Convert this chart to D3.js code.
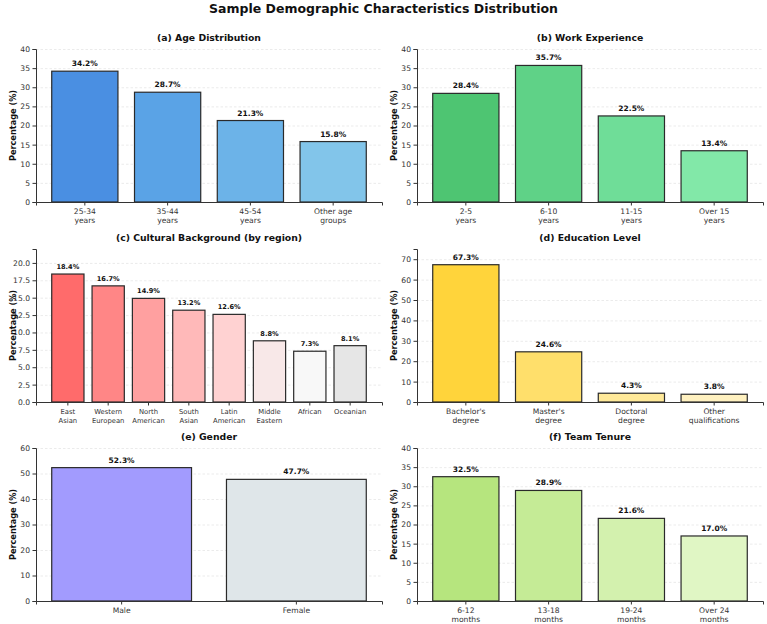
<!DOCTYPE html>
<html>
<head>
<meta charset="utf-8">
<script src="https://cdn.jsdelivr.net/npm/d3@7"></script>
<style>
  html, body { margin: 0; padding: 0; background: #fff; overflow: hidden; }
  svg { display: block; }
  text { font-family: 'DejaVu Sans', sans-serif; }
</style>
</head>
<body>
<svg></svg>
<script>
const w = 767
const h = 624

// (a) age
const ageLabels = ['25-34\nyears', '35-44\nyears', '45-54\nyears', 'Other age\ngroups']
const ageValues = [34.2, 28.7, 21.3, 15.8]
const ageTicks = [0, 5, 10, 15, 20, 25, 30, 35, 40]
const ageColors = ['#4a8fe2', '#5aa3e6', '#6cb3e8', '#82c5ea']

// (b) work experience
const expLabels = ['2-5\nyears', '6-10\nyears', '11-15\nyears', 'Over 15\nyears']
const expValues = [28.4, 35.7, 22.5, 13.4]
const expTicks = [0, 5, 10, 15, 20, 25, 30, 35, 40]
const expColors = ['#4ec572', '#5fd287', '#6fdd98', '#82e8a8']

// (c) cultural background
const cultureLabels = ['East\nAsian', 'Western\nEuropean', 'North\nAmerican', 'South\nAsian',
  'Latin\nAmerican', 'Middle\nEastern', 'African', 'Oceanian']
const cultureValues = [18.4, 16.7, 14.9, 13.2, 12.6, 8.8, 7.3, 8.1]
const cultureTicks = [0, 2.5, 5, 7.5, 10, 12.5, 15, 17.5, 20]
const cultureColors = ['#ff6b6b', '#ff8686', '#ffa0a0', '#ffb9b9', '#ffd2d2', '#f8e8e8', '#f8f8f8', '#e6e6e6']

// (d) education
const eduLabels = ["Bachelor's\ndegree", "Master's\ndegree", 'Doctoral\ndegree', 'Other\nqualifications']
const eduValues = [67.3, 24.6, 4.3, 3.8]
const eduTicks = [0, 10, 20, 30, 40, 50, 60, 70]
const eduColors = ['#ffd43b', '#ffdf6b', '#ffe999', '#fff1c0']

// (e) gender
const genderLabels = ['Male', 'Female']
const genderValues = [52.3, 47.7]
const genderTicks = [0, 10, 20, 30, 40, 50, 60]
const genderColors = ['#a29bfe', '#dfe6e9']

// (f) team tenure
const tenureLabels = ['6-12\nmonths', '13-18\nmonths', '19-24\nmonths', 'Over 24\nmonths']
const tenureValues = [32.5, 28.9, 21.6, 17.0]
const tenureTicks = [0, 5, 10, 15, 20, 25, 30, 35, 40]
const tenureColors = ['#b6e57e', '#c5eb96', '#d3f1ae', '#e0f6c4']

const panels = [
  { title: '(a) Age Distribution', labels: ageLabels, values: ageValues, ticks: ageTicks, colors: ageColors, yMax: 40 },
  { title: '(b) Work Experience', labels: expLabels, values: expValues, ticks: expTicks, colors: expColors, yMax: 40 },
  { title: '(c) Cultural Background (by region)', labels: cultureLabels, values: cultureValues, ticks: cultureTicks, colors: cultureColors, yMax: 22, fmt: d3.format('.1f'), small: true },
  { title: '(d) Education Level', labels: eduLabels, values: eduValues, ticks: eduTicks, colors: eduColors, yMax: 75 },
  { title: '(e) Gender', labels: genderLabels, values: genderValues, ticks: genderTicks, colors: genderColors, yMax: 60 },
  { title: '(f) Team Tenure', labels: tenureLabels, values: tenureValues, ticks: tenureTicks, colors: tenureColors, yMax: 40 }
]

const colX = [36, 417]
const rowTop = [49, 249, 448]
const innerWidth = 346
const innerHeight = 153

const svg = d3.select('svg')
  .attr('width', w)
  .attr('height', h)

svg.append('text')
  .attr('x', w / 2)
  .attr('y', 13)
  .attr('text-anchor', 'middle')
  .attr('font-size', 12.5)
  .attr('font-weight', 'bold')
  .attr('fill', '#111')
  .text('Sample Demographic Characteristics Distribution')

panels.forEach((p, i) => {
  const g = svg.append('g')
    .attr('transform', `translate(${colX[i % 2]}, ${rowTop[Math.floor(i / 2)]})`)

  const n = p.labels.length
  // bar width .8 with 5% margins, like matplotlib
  const xScale = d3.scaleBand()
    .domain(p.labels)
    .range([0, innerWidth])
    .paddingInner(0.2)
    .paddingOuter(0.05 * (n - 0.2))

  const yScale = d3.scaleLinear()
    .domain([0, p.yMax])
    .range([innerHeight, 0])

  const tickSize = p.small ? 6.8 : 7.6

  // grid
  const grid = g.append('g')
    .call(d3.axisLeft(yScale).tickValues(p.ticks).tickSize(-innerWidth).tickFormat(''))
  grid.select('.domain').remove()
  grid.selectAll('text').remove()
  grid.selectAll('line')
    .attr('stroke', '#e2e2e2')
    .attr('stroke-width', 0.7)
    .attr('stroke-dasharray', '2.5,2')

  // bars
  g.selectAll('rect').data(p.values)
    .enter().append('rect')
      .attr('x', (d, j) => xScale(p.labels[j]))
      .attr('y', d => yScale(d))
      .attr('width', xScale.bandwidth())
      .attr('height', d => innerHeight - yScale(d))
      .attr('fill', (d, j) => p.colors[j])
      .attr('stroke', '#2a2a2a')
      .attr('stroke-width', 1.2)

  // value labels
  g.selectAll('.val').data(p.values)
    .enter().append('text')
      .attr('class', 'val')
      .attr('x', (d, j) => xScale(p.labels[j]) + xScale.bandwidth() / 2)
      .attr('y', d => yScale(d) - 5)
      .attr('text-anchor', 'middle')
      .attr('font-size', p.small ? 6.6 : 7.5)
      .attr('font-weight', 'bold')
      .attr('fill', '#111')
      .text(d => d.toFixed(1) + '%')

  // y axis
  const yAxisG = g.append('g')
    .call(d3.axisLeft(yScale).tickValues(p.ticks).tickSizeOuter(0).tickSize(3.5).tickPadding(2.5)
      .tickFormat(p.fmt || d3.format('d')))
  yAxisG.selectAll('text').attr('font-size', 7.6).attr('fill', '#333').attr('font-family', 'DejaVu Sans')
  yAxisG.selectAll('line').attr('stroke', '#333')
  yAxisG.select('.domain').attr('stroke', '#333').attr('stroke-width', 1)

  yAxisG.append('text')
    .attr('transform', 'rotate(-90)')
    .attr('x', -innerHeight / 2)
    .attr('y', -20)
    .attr('text-anchor', 'middle')
    .attr('font-size', 8.2)
    .attr('font-weight', 'bold')
    .attr('fill', '#111')
    .text('Percentage (%)')

  // x axis
  const xAxisG = g.append('g')
    .attr('transform', `translate(0, ${innerHeight})`)
    .call(d3.axisBottom(xScale).tickSizeOuter(0).tickSize(3.5))
  xAxisG.selectAll('.tick text').remove()
  xAxisG.selectAll('line').attr('stroke', '#333')
  xAxisG.select('.domain').attr('stroke', '#333').attr('stroke-width', 1)

  xAxisG.selectAll('.tick').each(function (d) {
    const t = d3.select(this).append('text')
      .attr('fill', '#333')
      .attr('font-size', tickSize)
      .attr('text-anchor', 'middle')
      .attr('y', 12)
    d.split('\n').forEach((line, k) => {
      t.append('tspan')
        .attr('x', 0)
        .attr('dy', k === 0 ? 0 : 9.2)
        .text(line)
    })
  })

  // subplot title
  g.append('text')
    .attr('x', innerWidth / 2)
    .attr('y', -8)
    .attr('text-anchor', 'middle')
    .attr('font-size', 9.3)
    .attr('font-weight', 'bold')
    .attr('fill', '#111')
    .text(p.title)
})
</script>
</body>
</html>
